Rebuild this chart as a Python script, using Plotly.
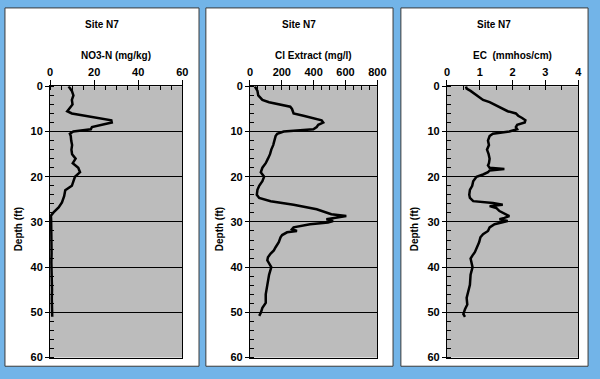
import plotly.graph_objects as go

# ---------------- data ----------------
site_title = "Site N7"
depth_no3 = [0, 1, 2, 3, 4, 5, 5.5, 6, 6.5, 7, 7.5, 8, 8.5, 9, 9.5, 10, 10.5, 11, 12, 13,
             14, 15, 16, 17, 18, 19, 20, 21, 22, 23, 24.3, 25.7, 26.8, 27.9, 28.6, 29.5, 31, 33, 35, 37,
             39, 41, 43, 45, 47, 49, 50, 51]
no3 = [8.4, 9.9, 10.6, 9.9, 10.2, 8.4, 7.8, 9.9, 15.8, 23, 27.8, 28, 23, 19, 18.5, 10.6, 9, 9.4, 9.6, 10,
       9.7, 10, 11.6, 10.3, 12.8, 13.6, 11.3, 10.6, 9.9, 6.9, 6.4, 5.4, 3.9, 1.6, 0.4, 0.5, 0.6, 0.5, 0.6, 0.7,
       0.6, 0.8, 0.7, 0.9, 0.8, 0.9, 0.7, 1.0]

depth_cl = [0, 0.5, 1, 2, 3, 3.5, 4, 4.5, 5, 5.5, 6, 6.5, 7, 7.5, 8, 8.5, 9, 9.5, 10, 10.5,
            11, 12, 13, 14, 15, 16, 17, 18, 19, 20, 21, 22, 22.9, 24, 24.7, 25.4, 26.2, 27.2, 28.3, 28.7,
            29.1, 29.4, 29.8, 30.1, 30.5, 31.2, 31.6, 32, 32.3, 32.9, 33.4, 34.5, 35.6, 36.3, 37, 37.8, 38.5, 40, 41.7, 43.9,
            46, 47.9, 49, 50.1, 50.8]
cl = [31, 37, 47, 52, 78, 120, 181, 253, 264, 268, 274, 336, 398, 450, 460, 429, 419, 398, 212, 171,
      161, 155, 146, 134, 126, 113, 99, 78, 68, 89, 78, 58, 47, 43, 58, 130, 274, 419, 511, 605,
      542, 480, 522, 490, 377, 274, 264, 295, 233, 202, 192, 181, 161, 150, 130, 113, 109, 134, 120, 109,
      99, 99, 78, 68, 58]

depth_ec = [0, 0.5, 1, 2, 2.5, 3, 3.5, 4, 4.5, 5, 5.5, 6, 6.5, 7, 7.5, 8, 8.5, 9, 9.5, 10,
            10.5, 11, 12, 13, 14, 15, 16, 17, 17.5, 18, 18.3, 18.6, 19, 19.5, 20, 21, 22, 22.9, 24, 24.7,
            25.4, 25.8, 26.2, 26.5, 26.9, 27.6, 28.3, 28.7, 29.1, 29.4, 29.8, 30.1, 30.5, 31.2, 32, 32.7, 33.4, 34.5, 35.6, 36.7,
            37.4, 38.1, 40, 41.7, 43.9, 45.4, 46.8, 48.3, 49.3, 50.4, 51]
ec = [0.58, 0.6, 0.72, 0.9, 0.98, 1.1, 1.3, 1.45, 1.6, 1.7, 1.85, 2.1, 2.17, 2.29, 2.39, 2.37, 2.14, 2.1, 2.14, 1.9,
      1.4, 1.3, 1.25, 1.28, 1.22, 1.27, 1.3, 1.28, 1.25, 1.3, 1.75, 1.3, 1.25, 1.1, 0.9, 0.8, 0.77, 0.7, 0.68, 0.7,
      0.8, 1.4, 1.7, 1.3, 1.5, 1.6, 1.8, 1.9, 1.75, 1.6, 1.85, 1.7, 1.45, 1.3, 1.25, 1.1, 1.02, 0.98, 0.92, 0.85,
      0.78, 0.72, 0.78, 0.72, 0.7, 0.65, 0.6, 0.62, 0.55, 0.5, 0.55]

x_titles = ["NO3-N (mg/kg)", "Cl Extract (mg/l)", "EC  (mmhos/cm)"]
x_ranges = [[0, 60], [0, 800], [0, 4]]
x_dticks = [20, 200, 1]
x_minor = [5, 50, 0.5]
y_title = "Depth (ft)"

# ---------------- layout ----------------
W, H = 600, 379
FONT = "Liberation Sans"
plot_px = [(48, 183), (252, 382), (453, 587)]
box_px = [(2, 200), (207, 398), (406, 597)]
top_px, bot_px = 83, 363
yd = [1 - bot_px / H, 1 - top_px / H]

fig = go.Figure()
series = [(no3, depth_no3), (cl, depth_cl), (ec, depth_ec)]
for i, (xv, yv) in enumerate(series):
    sfx = "" if i == 0 else str(i + 1)
    fig.add_trace(go.Scatter(x=xv, y=yv, mode="lines",
                             line=dict(color="black", width=2.5),
                             xaxis="x" + sfx, yaxis="y" + sfx, showlegend=False))

layout = dict(width=W, height=H, margin=dict(l=0, r=0, t=0, b=0),
              paper_bgcolor="#72b4e8", plot_bgcolor="#bcbcbc", showlegend=False)

tickfont = dict(family=FONT, size=11, color="black", weight="bold")
shapes = []
annotations = []
for i in range(3):
    sfx = "" if i == 0 else str(i + 1)
    x0, x1 = plot_px[i]
    layout["xaxis" + sfx] = dict(
        domain=[x0 / W, x1 / W], range=x_ranges[i], dtick=x_dticks[i], side="top",
        anchor="y" + sfx, showgrid=False, zeroline=False, showline=True, linecolor="black",
        linewidth=1, mirror=True, ticks="outside", ticklen=5, tickcolor="black",
        tickfont=tickfont, fixedrange=True,
        minor=dict(dtick=x_minor[i], ticks="inside", ticklen=4, tickcolor="black", showgrid=False))
    layout["yaxis" + sfx] = dict(
        domain=yd, range=[60, 0], dtick=10, anchor="x" + sfx, showgrid=True,
        gridcolor="black", gridwidth=1, zeroline=False, showline=True, linecolor="black",
        linewidth=1, mirror=True, ticks="outside", ticklen=4, tickcolor="black",
        tickfont=tickfont, fixedrange=True,
        minor=dict(dtick=2, ticks="inside", ticklen=4, tickcolor="black", showgrid=False))
    bx0, bx1 = box_px[i]
    shapes.append(dict(type="rect", xref="paper", yref="paper", layer="below",
                       x0=bx0 / W, x1=bx1 / W, y0=1 - 372 / H, y1=1 - 2 / H,
                       fillcolor="white", line=dict(color="#3a3a3a", width=1)))
    shapes.append(dict(type="rect", xref="paper", yref="paper", layer="below",
                       x0=x0 / W, x1=x1 / W, y0=yd[0], y1=yd[1],
                       fillcolor="#bcbcbc", line=dict(width=0)))
    annotations.append(dict(text=site_title, xref="paper", yref="paper",
                            x=(bx0 + bx1) / 2 / W, y=1 - 19 / H, showarrow=False,
                            xanchor="center", yanchor="middle",
                            font=dict(family=FONT, size=10, color="black", weight="bold")))
    annotations.append(dict(text=x_titles[i], xref="paper", yref="paper",
                            x=(x0 + x1) / 2 / W, y=1 - 51 / H, showarrow=False,
                            xanchor="center", yanchor="middle",
                            font=dict(family=FONT, size=10, color="black", weight="bold")))
    annotations.append(dict(text=y_title, xref="paper", yref="paper",
                            x=(bx0 + 14) / W, y=1 - 231 / H, showarrow=False, textangle=-90,
                            xanchor="center", yanchor="middle",
                            font=dict(family=FONT, size=10, color="black", weight="bold")))

layout["shapes"] = shapes
layout["annotations"] = annotations
fig.update_layout(**layout)
fig.write_html("out.html", config={"displayModeBar": False},
               post_script="document.body.style.margin='0';document.documentElement.style.overflow='hidden';")
